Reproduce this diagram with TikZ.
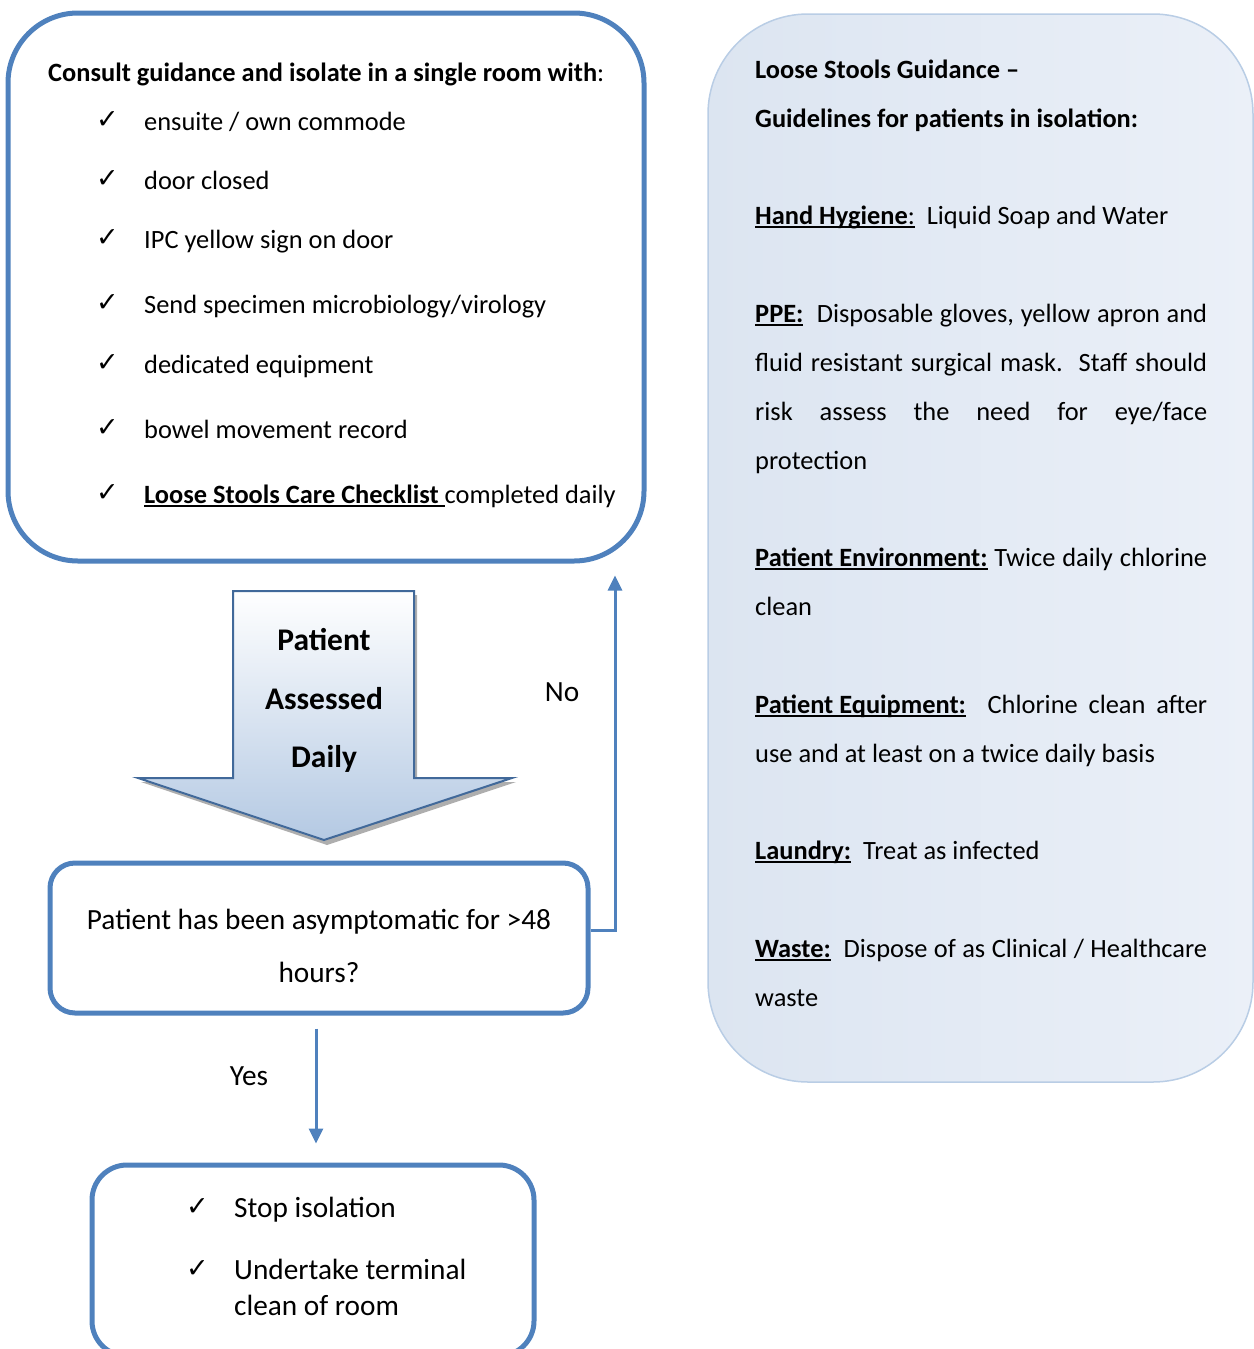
\documentclass[tikz,border=0pt]{standalone}
\usepackage{fontspec}
\setmainfont{Carlito}
\newfontfamily\symf{DejaVu Sans}
\usetikzlibrary{arrows.meta,calc}
\definecolor{ibl}{HTML}{4F81BD}
\definecolor{pbord}{HTML}{B9CDE5}
\definecolor{arrbd}{HTML}{41699A}
\definecolor{arrfill}{HTML}{B4C9E3}
\definecolor{panL}{HTML}{DCE5F1}
\definecolor{panR}{HTML}{EBF0F8}
\newcommand\ulx[1]{\setbox0\hbox{#1}\rlap{\rule[-3.5pt]{\wd0}{1.6pt}}\box0\relax}
\newcommand\ckm{{\symf\fontsize{27}{30}\selectfont ✓}}
\begin{document}
\begin{tikzpicture}[x=1pt,y=-1pt,
  bluebox/.style={draw=ibl,line width=5pt,rounded corners=#1,inner sep=0pt},
  txt/.style={anchor=base west,inner sep=0pt,font=\fontsize{26.4}{30}\selectfont},
  btxt/.style={anchor=base,inner sep=0pt,font=\fontsize{29.3}{33}\selectfont},
  atxt/.style={anchor=base,inner sep=0pt,font=\bfseries\fontsize{31.5}{36}\selectfont},
  ckn/.style={anchor=base west,inner sep=0pt},
  flow/.style={draw=ibl,line width=3pt,-{Triangle[width=14pt,length=15pt]}}
]
\useasboundingbox (0,0) rectangle (1253,1349);

% right panel
\node[draw=pbord,line width=1.5pt,rounded corners=100pt,left color=panL,right color=panR,
      minimum width=545pt,minimum height=1068pt,inner sep=0pt] (panel) at (980.5,548) {};

% top box
\node[bluebox=70pt,minimum width=636pt,minimum height=548pt] (top) at (326,287) {};
\node[txt,font=\bfseries\fontsize{26.4}{30}\selectfont] (t0) at (48,81) {Consult guidance and isolate in a single room with{\mdseries:}};
\foreach \n/\yy/\tt in {1/130/{ensuite / own commode},2/189/{door closed},3/248/{IPC yellow sign on door},
   4/313/{Send specimen microbiology/virology},5/373/{dedicated equipment},6/438/{bowel movement record}}{
  \node[ckn] (c\n) at (96,\yy-2) {\ckm};
  \node[txt] (t\n) at (144,\yy) {\tt};
}
\node[ckn] (c7) at (96,501) {\ckm};
\node[txt] (t7) at (144,503) {\ulx{\bfseries Loose Stools Care Checklist\ }completed daily};

% big arrow
\path[fill=black!45,opacity=.7] (236,595) -- (417,595) -- (417,782) -- (516,782) -- (327,845) -- (141,782) -- (236,782) -- cycle;
\path[draw=arrbd,line width=2pt,top color=white,bottom color=arrfill]
  (233,591) -- (414,591) -- (414,778) -- (512,778) -- (324,840) -- (138,778) -- (233,778) -- cycle;
\node[atxt] (a1) at (324,650) {Patient};
\node[atxt] (a2) at (324,709) {Assessed};
\node[atxt] (a3) at (324,767) {Daily};

% decision box
\node[bluebox=25pt,minimum width=538pt,minimum height=150pt] (dec) at (319,938) {};
\node[btxt] (d1) at (319,929) {Patient has been asymptomatic for >48};
\node[btxt] (d2) at (319,982) {hours?};

% no loop
\coordinate (noend) at ($(top.south -| 615,0)+(0,12)$);
\draw[flow] ([yshift=8pt]dec.east) -| (noend);
\node[btxt] (no) at (562,701) {No};

% bottom box
\node[bluebox=35pt,minimum width=442pt,minimum height=191pt] (stop) at (313,1260.5) {};
\draw[flow] ($(dec.south)+(-3,13)$) -- ($(stop.north)+(3,-19)$);
\node[btxt] (yes) at (249,1085) {Yes};
\node[ckn] (s1c) at (186,1215) {\ckm};
\node[txt,font=\fontsize{29.3}{33}\selectfont] (s1) at (234,1217) {Stop isolation};
\node[ckn] (s2c) at (186,1277) {\ckm};
\node[txt,font=\fontsize{29.3}{33}\selectfont] (s2) at (234,1279) {Undertake terminal};
\node[txt,font=\fontsize{29.3}{33}\selectfont] (s3) at (234,1315) {clean of room};

% panel text
\node[txt,font=\bfseries\fontsize{26.4}{30}\selectfont] (p1) at (755,78) {Loose Stools Guidance –};
\node[txt,font=\bfseries\fontsize{26.4}{30}\selectfont] (p2) at (755,127) {Guidelines for patients in isolation:};
\node[txt] (p3) at (755,224) {\ulx{\textbf{Hand Hygiene}:}\ \ Liquid Soap and Water};
\node[txt] (p4) at (755,322) {\makebox[452pt][s]{\ulx{\textbf{PPE:}}\ \ Disposable gloves, yellow apron and}};
\node[txt] (p5) at (755,371) {\makebox[452pt][s]{fluid resistant surgical mask.\ \ Staff should}};
\node[txt] (p6) at (755,420) {\makebox[452pt][s]{risk assess the need for eye/face}};
\node[txt] (p7) at (755,469) {protection};
\node[txt] (p8) at (755,566) {\makebox[452pt][s]{\ulx{\textbf{Patient Environment:}} Twice daily chlorine}};
\node[txt] (p9) at (755,615) {clean};
\node[txt] (p10) at (755,713) {\makebox[452pt][s]{\ulx{\textbf{Patient\ Equipment:}}\ \ Chlorine clean after}};
\node[txt] (p11) at (755,762) {use and at least on a twice daily basis};
\node[txt] (p12) at (755,859) {\ulx{\textbf{Laundry:}}\ \ Treat as infected};
\node[txt] (p13) at (755,957) {\makebox[452pt][s]{\ulx{\textbf{Waste:}}\ \ Dispose of as Clinical / Healthcare}};
\node[txt] (p14) at (755,1006) {waste};
\end{tikzpicture}
\end{document}
